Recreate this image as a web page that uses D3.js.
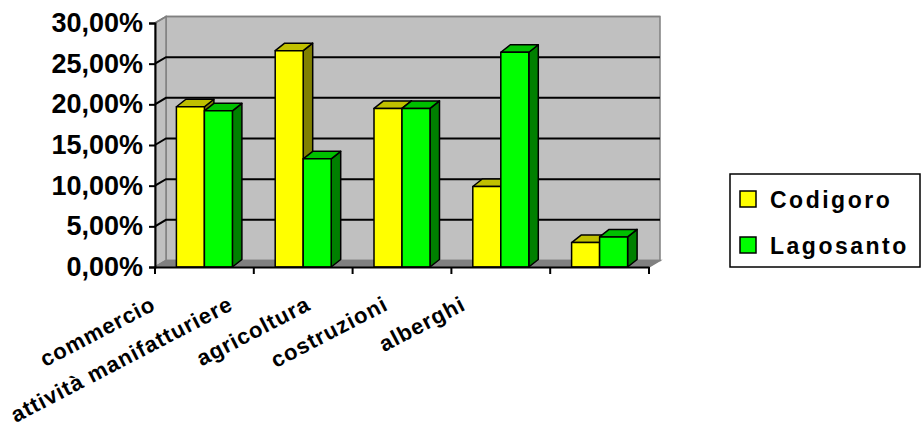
<!DOCTYPE html>
<html>
<head>
<meta charset="utf-8">
<script src="https://cdn.jsdelivr.net/npm/d3@7"></script>
<style>
  body { margin: 0; background: #fff; }
  text { font-family: "Liberation Sans", Arial, sans-serif; font-weight: bold; }
</style>
</head>
<body>
<div class="chart"></div>
<script>
var categories = ["commercio", "attività manifatturiere", "agricoltura", "costruzioni", "alberghi"];
var series = ["Codigoro", "Lagosanto"];
var codigoro = [0.197, 0.266, 0.195, 0.099, 0.030];
var lagosanto = [0.192, 0.133, 0.195, 0.264, 0.037];
var yTicks = [0, 0.05, 0.10, 0.15, 0.20, 0.25, 0.30];

var svgWidth = 922;
var svgHeight = 427;

// colours per series: front, top, side
var colors = {
  Codigoro: {front: "#ffff00", top: "#c0c000", side: "#808000"},
  Lagosanto: {front: "#00ff00", top: "#00c000", side: "#008000"}
};

// depth offsets of the walls and of the bars
var wall = {dx: 11, dy: -6.5};
var bar = {dx: 9.5, dy: -7.5};

var svg = d3.select(".chart")
  .append("svg")
  .attr("width", svgWidth)
  .attr("height", svgHeight);

var xScale = d3.scaleBand().domain(categories).range([155, 649]);
var yScale = d3.scaleLinear().domain([0, 0.30]).range([267, 23]);
var sub = d3.scaleBand().domain(series).range([21.4, 77.4]);

var x0 = xScale.range()[0], x1 = xScale.range()[1];
var yTop = yScale(0.30), yBot = yScale(0);

// back wall
svg.append("rect")
  .attr("x", x0 + wall.dx).attr("y", yTop + wall.dy)
  .attr("width", x1 - x0).attr("height", yBot - yTop)
  .attr("fill", "#c0c0c0").attr("stroke", "#808080").attr("stroke-width", 1.5);

// side wall
svg.append("polygon")
  .attr("points", [[x0, yTop], [x0 + wall.dx, yTop + wall.dy], [x0 + wall.dx, yBot + wall.dy], [x0, yBot]].join(" "))
  .attr("fill", "#c0c0c0").attr("stroke", "#808080").attr("stroke-width", 1.5);

// floor
svg.append("polygon")
  .attr("points", [[x0, yBot], [x0 + wall.dx, yBot + wall.dy], [x1 + wall.dx, yBot + wall.dy], [x1, yBot]].join(" "))
  .attr("fill", "#808080").attr("stroke", "#808080").attr("stroke-width", 1.5);

// gridlines
yTicks.filter(d => d > 0).forEach(function(t) {
  var y = yScale(t);
  svg.append("polyline")
    .attr("points", [[x0, y], [x0 + wall.dx, y + wall.dy], [x1 + wall.dx, y + wall.dy]].join(" "))
    .attr("fill", "none")
    .attr("stroke", t === 0.30 ? "#808080" : "#000")
    .attr("stroke-width", t === 0.30 ? 1.5 : 2);
});

// bars
categories.forEach(function(c, i) {
  series.forEach(function(s) {
    var v = s === "Codigoro" ? codigoro[i] : lagosanto[i];
    var col = colors[s];
    var bx = xScale(c) + sub(s);
    var bw = sub.bandwidth();
    var by = yScale(v);
    var g = svg.append("g")
      .attr("stroke", "#000").attr("stroke-width", 1.5).attr("stroke-linejoin", "round");
    g.append("polygon")
      .attr("points", [[bx + bw, by], [bx + bw + bar.dx, by + bar.dy], [bx + bw + bar.dx, yBot + bar.dy], [bx + bw, yBot]].join(" "))
      .attr("fill", col.side);
    g.append("polygon")
      .attr("points", [[bx, by], [bx + bar.dx, by + bar.dy], [bx + bw + bar.dx, by + bar.dy], [bx + bw, by]].join(" "))
      .attr("fill", col.top);
    g.append("rect")
      .attr("x", bx).attr("y", by).attr("width", bw).attr("height", yBot - by)
      .attr("fill", col.front);
  });
});

// axes
var leftAxis = d3.axisLeft(yScale)
  .tickValues(yTicks)
  .tickSize(6)
  .tickPadding(6)
  .tickFormat(d => d3.format(".2f")(d * 100).replace(".", ",") + "%");

var ya = svg.append("g").attr("transform", `translate(${x0}, 0)`).call(leftAxis);
ya.select(".domain").attr("stroke", "#000").attr("stroke-width", 2);
ya.selectAll(".tick line").attr("stroke", "#000").attr("stroke-width", 2);
ya.selectAll(".tick text")
  .attr("font-size", 27).attr("fill", "#000")
  .attr("font-family", "'Liberation Sans', Arial, sans-serif")
  .attr("font-weight", "bold");

var bottomAxis = d3.axisBottom(xScale).tickSize(0).tickFormat("");
var xa = svg.append("g").attr("transform", `translate(0, ${yBot})`).call(bottomAxis);
xa.select(".domain").attr("stroke", "#000").attr("stroke-width", 2);

// category boundary ticks
var edges = categories.map(c => xScale(c)).concat([x1]);
xa.selectAll(".edge")
  .data(edges)
  .enter()
  .append("line")
  .attr("x1", d => d).attr("x2", d => d)
  .attr("y1", 0).attr("y2", 7)
  .attr("stroke", "#000").attr("stroke-width", 2);

// rotated category labels
var labelX = d3.scalePoint().domain(categories).range([157, 467]);
svg.selectAll(".cat")
  .data(categories)
  .enter()
  .append("text")
  .attr("class", "cat")
  .attr("text-anchor", "end")
  .attr("font-size", 22)
  .attr("letter-spacing", 1)
  .attr("transform", d => `translate(${labelX(d)}, 309) rotate(-27.5)`)
  .text(d => d);

// legend
var legend = svg.append("g");
legend.append("rect")
  .attr("x", 730).attr("y", 174).attr("width", 190).attr("height", 93)
  .attr("fill", "#fff").attr("stroke", "#000").attr("stroke-width", 1.5);

var ly = d3.scalePoint().domain(series).range([199, 245]);
series.forEach(function(s) {
  legend.append("rect")
    .attr("x", 740).attr("y", ly(s) - 8).attr("width", 16).attr("height", 16)
    .attr("fill", colors[s].front).attr("stroke", "#000").attr("stroke-width", 1.5);
  legend.append("text")
    .attr("x", 770).attr("y", ly(s) + 9)
    .attr("font-size", 23)
    .attr("letter-spacing", 2.5)
    .text(s);
});
</script>
</body>
</html>
